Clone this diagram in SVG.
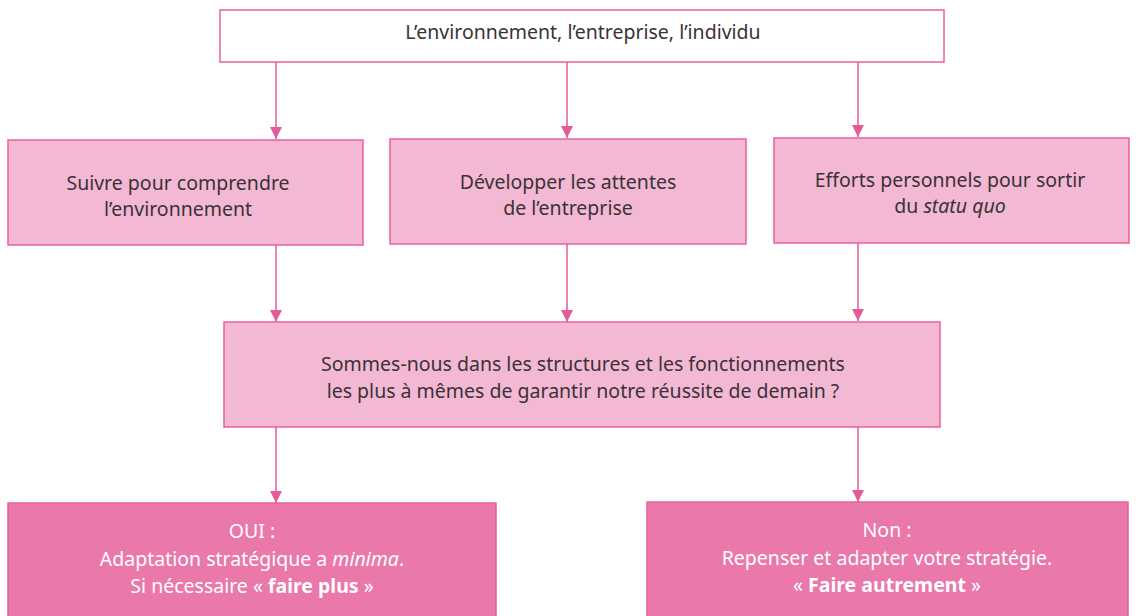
<svg xmlns="http://www.w3.org/2000/svg" width="1136" height="616" viewBox="0 0 1136 616">
<style>
.box{fill:#f3b8d3;stroke:#e8609e;stroke-width:1.5}
.dark{fill:#ea78ab;stroke:#e8609e;stroke-width:1.5}
.top{fill:#ffffff;stroke:#e8609e;stroke-width:1.5}
text{font-family:"Noto Sans","Liberation Sans",sans-serif;font-size:19.5px;fill:#3a3236;text-anchor:middle}
.w{fill:#ffffff}
.conn line{stroke:#e55a98;stroke-width:1.5}
</style>
<defs>
<marker id="ah" markerWidth="12" markerHeight="12" refX="12" refY="6" orient="auto" markerUnits="userSpaceOnUse">
<path d="M0,0 L12,6 L0,12 Z" fill="#e55a98"/>
</marker>
</defs>
<rect width="1136" height="616" fill="#ffffff"/>
<g id="connectors" class="conn">
<line x1="276" y1="62" x2="276" y2="139" marker-end="url(#ah)"/>
<line x1="567" y1="62" x2="567" y2="138" marker-end="url(#ah)"/>
<line x1="858" y1="62" x2="858" y2="137" marker-end="url(#ah)"/>
<line x1="276" y1="245" x2="276" y2="322" marker-end="url(#ah)"/>
<line x1="567" y1="244" x2="567" y2="322" marker-end="url(#ah)"/>
<line x1="858" y1="243" x2="858" y2="321" marker-end="url(#ah)"/>
<line x1="276" y1="427" x2="276" y2="503" marker-end="url(#ah)"/>
<line x1="858" y1="427" x2="858" y2="502" marker-end="url(#ah)"/>
</g>
<g id="n-top">
<rect class="top" x="220" y="10" width="724" height="52"/>
<text x="583" y="39">L’environnement, l’entreprise, l’individu</text>
</g>
<g id="n-suivre">
<rect class="box" x="8" y="140" width="355" height="105"/>
<text x="178" y="190">Suivre pour comprendre</text>
<text x="178" y="216">l’environnement</text>
</g>
<g id="n-developper">
<rect class="box" x="390" y="139" width="356" height="105"/>
<text x="568" y="189">Développer les attentes</text>
<text x="568" y="215">de l’entreprise</text>
</g>
<g id="n-efforts">
<rect class="box" x="774" y="138" width="355" height="105"/>
<text x="950" y="187">Efforts personnels pour sortir</text>
<text x="950" y="213">du <tspan font-style="italic">statu quo</tspan></text>
</g>
<g id="n-question">
<rect class="box" x="224" y="322" width="716" height="105"/>
<text x="583" y="371">Sommes-nous dans les structures et les fonctionnements</text>
<text x="583" y="398">les plus à mêmes de garantir notre réussite de demain ?</text>
</g>
<g id="n-oui">
<rect class="dark" x="8" y="503" width="488" height="116"/>
<text class="w" x="252" y="538">OUI :</text>
<text class="w" x="252" y="566">Adaptation stratégique a <tspan font-style="italic">minima</tspan>.</text>
<text class="w" x="252" y="593">Si nécessaire « <tspan font-weight="bold">faire plus</tspan> »</text>
</g>
<g id="n-non">
<rect class="dark" x="647" y="502" width="481" height="117"/>
<text class="w" x="887" y="537">Non :</text>
<text class="w" x="887" y="565">Repenser et adapter votre stratégie.</text>
<text class="w" x="887" y="592">« <tspan font-weight="bold">Faire autrement</tspan> »</text>
</g>
</svg>
